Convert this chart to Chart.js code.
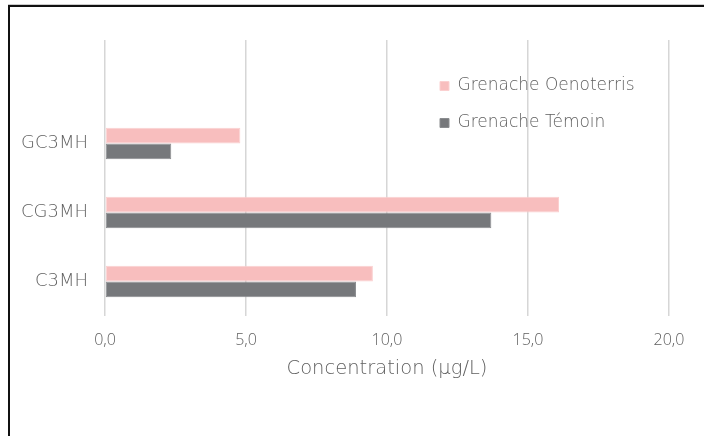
<!DOCTYPE html>
<html>
<head>
<meta charset="utf-8">
<script src="https://cdn.jsdelivr.net/npm/chart.js@4.4.1/dist/chart.umd.min.js"></script>
<style>
    html, body { margin: 0; padding: 0; background: #fff; overflow: hidden; }
    #wrap { position: relative; width: 704px; height: 436px; }
    #frame { position: absolute; left: 8px; top: 5px; width: 720px; height: 460px; border: 2px solid #111; box-shadow: 0 -1px 0 #ccc; }
    canvas { position: absolute; left: 0; top: 0; }
</style>
</head>
<body>
<div id="wrap">
    <div id="frame"></div>
    <canvas id="concChart" width="704" height="436"></canvas>
</div>
<script>
// categories top to bottom (first one is the empty row Excel leaves at the top)
const categories = ['', 'GC3MH', 'CG3MH', 'C3MH'];
const oenoterris = [null, 4.8, 16.1, 9.5];
const temoin = [null, 2.35, 13.7, 8.9];
const seriesNames = ['Grenache Oenoterris', 'Grenache Témoin'];
const xTicks = [0, 5, 10, 15, 20];

const textGray = '#606060';
const wideFont = "'DejaVu Sans', sans-serif";
const numFont = "'Open Sans', sans-serif";

// put the legend inside the plot, top right, as in the original
const legendPlacer = {
    id: 'legendPlacer',
    afterLayout(chart) {
        const lg = chart.legend;
        const area = chart.chartArea;
        lg.left = area.left + 315;
        lg.right = chart.width;
        lg.top = area.top + 17.5;
        lg.bottom = chart.height;
    }
};

const ctx = document.getElementById('concChart').getContext('2d');

new Chart(ctx, {
    type: 'bar',
    data: {
        labels: categories,
        datasets: [
            {
                label: seriesNames[0],
                data: oenoterris,
                backgroundColor: '#f8bebe',
                borderColor: '#fbd0d0',
                borderWidth: 1,
                borderSkipped: false
            },
            {
                label: seriesNames[1],
                data: temoin,
                backgroundColor: '#76787b',
                borderColor: '#8a8c8f',
                borderWidth: 1,
                borderSkipped: false
            }
        ]
    },
    options: {
        indexAxis: 'y',
        responsive: false,
        animation: false,
        categoryPercentage: 0.46,
        barPercentage: 1,
        layout: { padding: { left: 0, right: 35, top: 40, bottom: 0 } },
        plugins: {
            tooltip: { enabled: false },
            legend: {
                position: 'chartArea',
                align: 'start',
                labels: {
                    boxWidth: 9,
                    boxHeight: 9,
                    padding: 20,
                    color: textGray,
                    font: { family: wideFont, size: 17, weight: 200 }
                }
            }
        },
        scales: {
            x: {
                min: 0,
                max: 20,
                afterBuildTicks: scale => {
                    scale.ticks = xTicks.map(v => ({ value: v }));
                },
                afterFit: scale => { scale.height = 120; },
                grid: { color: '#d6d6d6', lineWidth: 1.5, drawTicks: false },
                border: { display: false },
                ticks: {
                    padding: 15,
                    color: textGray,
                    font: { family: numFont, size: 16, weight: 300 },
                    callback: v => v.toFixed(1).replace('.', ',')
                },
                title: {
                    display: true,
                    text: 'Concentration (µg/L)',
                    color: textGray,
                    font: { family: wideFont, size: 19.5, weight: 200 },
                    padding: { top: 0, bottom: 55 }
                }
            },
            y: {
                afterFit: scale => { scale.width = 105; },
                grid: { display: false, drawTicks: false },
                border: { display: false },
                ticks: {
                    padding: 17,
                    color: textGray,
                    font: { family: wideFont, size: 18, weight: 200 }
                }
            }
        }
    },
    plugins: [legendPlacer]
});
</script>
</body>
</html>
